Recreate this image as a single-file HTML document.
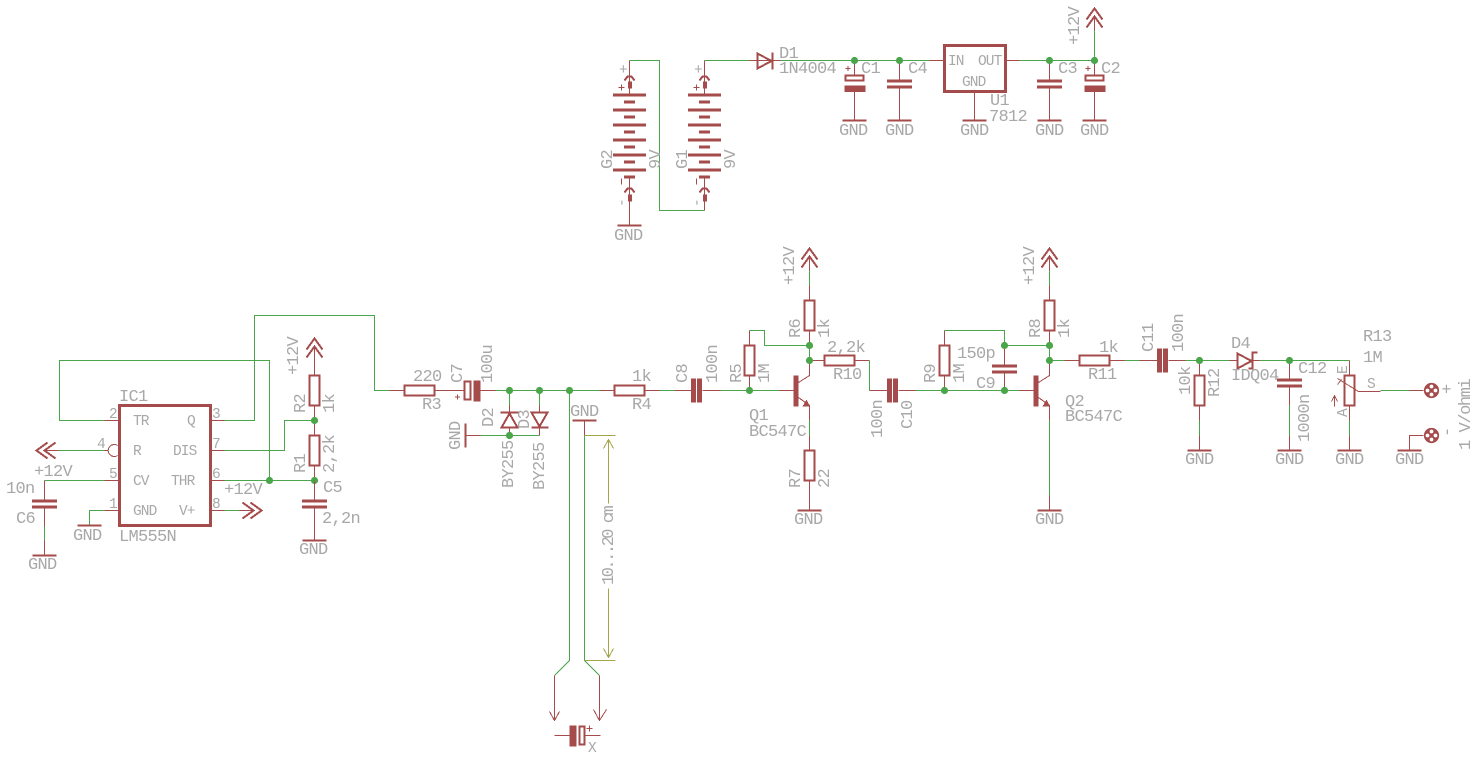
<!DOCTYPE html>
<html><head><meta charset="utf-8"><title>Schematic</title>
<style>
html,body{margin:0;padding:0;background:#fff}
svg{display:block}
path,rect{shape-rendering:crispEdges}
.r{stroke:#a54b4b;stroke-width:1;fill:none}
.g{stroke:#4ba54b;stroke-width:1;fill:none}
.o{stroke:#a5a54b;stroke-width:1;fill:none}
.f{fill:#a54b4b;stroke:none}
.w{stroke:#a54b4b;stroke-width:2;fill:none}
.d{fill:#4ba54b;stroke:none}
text{font-family:"Liberation Mono",monospace;font-size:17px;letter-spacing:-.7px;fill:#a8a8a8;stroke:none}
text.s{font-size:14.5px;letter-spacing:-.9px}
</style></head><body>
<svg width="1475" height="761" viewBox="0 0 1475 761" xmlns="http://www.w3.org/2000/svg">
<defs>
<g id="rv"><rect class="w" x="-5" y="-15" width="10" height="30"/><path class="r" d="M0-30V-15M0 15V30"/></g>
<g id="rh"><rect class="w" x="-15" y="-5" width="30" height="10"/><path class="r" d="M-30 0H-15M15 0H30"/></g>
<path id="gnd" class="w" d="M-12 0H12"/>
<circle id="dot" class="d" r="3.6"/>
<g id="sup"><path class="r" d="M0 0V-14"/><path class="w" d="M-8-11L0-22L8-11M-8-3L0-14L8-3"/></g>
<g id="cv"><rect class="f" x="-12.5" y="-5" width="25" height="3"/><rect class="f" x="-12.5" y="1" width="25" height="3"/></g>
<g id="ch"><rect class="f" x="-5.5" y="-12" width="5" height="24"/><rect class="f" x="0.5" y="-12" width="5" height="24"/></g>
<g id="pc"><rect class="w" x="-9" y="15" width="18" height="5"/><rect class="f" x="-10" y="25" width="21" height="6.5"/><path class="r" d="M0 0V15M0 31V60M-9 8H-4M-6.5 5.5V10.5"/></g>
<g id="bat">
<path class="r" d="M0 0V33M0 115V150M-11 27H-5M-8 24V30"/>
<path class="w" d="M-5 20L-2 16H2L5 20M-5 132L-2 128H2L5 132"/>
<rect class="f" x="-1.5" y="21" width="4" height="7"/><rect class="f" x="-1.5" y="134" width="4" height="7"/>
<rect class="f" x="-16.5" y="33" width="33" height="3"/><rect class="f" x="-16.5" y="48" width="33" height="3"/><rect class="f" x="-16.5" y="63" width="33" height="3"/><rect class="f" x="-16.5" y="78" width="33" height="3"/><rect class="f" x="-16.5" y="93" width="33" height="3"/><rect class="f" x="-16.5" y="108" width="33" height="3"/>
<rect class="f" x="-5.5" y="40" width="11" height="3"/><rect class="f" x="-5.5" y="55" width="11" height="3"/><rect class="f" x="-5.5" y="70" width="11" height="3"/><rect class="f" x="-5.5" y="85" width="11" height="3"/><rect class="f" x="-5.5" y="100" width="11" height="3"/><rect class="f" x="-5.5" y="115" width="11" height="3"/>
<path class="r" d="M-8 118V124"/>
</g>
<g id="q"><path class="r" d="M-30 0H-16M-11-8L0-15V-30M-11 7L0 15V30"/><rect class="f" x="-16" y="-15" width="5" height="31"/><path class="f" d="M-7 16H0.5L-3 9Z"/></g>
<g id="term"><circle class="f" r="7.6"/><circle r="1.9" cy="-4" fill="#fff"/><circle r="1.9" cy="4" fill="#fff"/><circle r="1.9" cx="-4" fill="#fff"/><circle r="1.9" cx="4" fill="#fff"/></g>
</defs>
<rect width="1475" height="761" fill="#fff"/>
<g transform="translate(.5 .5)">
<!-- power section -->
<path class="g" d="M629 60H659V210H704M704 60H749M780 60H929M1019 60H1094M1094 30V60"/>
<use href="#bat" x="629" y="60"/><use href="#bat" x="704" y="60"/>
<path class="r" d="M629 210V225M749 60H780"/>
<path class="w" d="M757 53V68L771 60.5ZM772 52V69"/>
<use href="#gnd" x="629" y="225"/>
<use href="#pc" x="854" y="60"/><use href="#gnd" x="854" y="120"/>
<use href="#cv" x="899" y="84"/><path class="r" d="M899 60V80M899 87V120"/><use href="#gnd" x="899" y="120"/>
<path class="r" d="M929 60H944M1005 60H1019M974 91V120"/>
<rect x="944" y="45" width="61" height="46" fill="none" stroke="#a54b4b" stroke-width="3"/>
<use href="#gnd" x="974" y="120"/>
<use href="#cv" x="1049" y="84"/><path class="r" d="M1049 60V80M1049 87V120"/><use href="#gnd" x="1049" y="120"/>
<use href="#pc" x="1094" y="60"/><use href="#gnd" x="1094" y="120"/>
<use href="#sup" x="1094" y="30"/>
<use href="#dot" x="854" y="60"/><use href="#dot" x="899" y="60"/><use href="#dot" x="1049" y="60"/><use href="#dot" x="1094" y="60"/>

<!-- 555 -->
<rect x="119" y="405" width="91" height="120" fill="none" stroke="#a54b4b" stroke-width="3"/>
<path class="r" d="M104 420H119M104 480H119M104 510H119M210 420H224M210 450H224M210 480H224M210 510H224M104 450H107"/>
<path class="r" d="M117 445A6 6 0 1 0 117 455"/>
<path class="g" d="M104 420H59V360H269V480M224 420H254V315H374V390H389M224 450H284V420H314M224 480H314M224 510H239M58 450H104M104 480H44M104 510H89V525"/>
<use href="#sup" transform="translate(58 450) rotate(-90)"/>
<use href="#sup" transform="translate(239 510) rotate(90)"/>
<use href="#dot" x="269" y="480"/>
<use href="#sup" x="314" y="360"/>
<use href="#rv" x="314" y="390"/><use href="#rv" x="314" y="450"/>
<use href="#dot" x="314" y="420"/><use href="#dot" x="314" y="480"/>
<use href="#cv" x="314" y="504"/><path class="r" d="M314 480V500M314 507V540"/><use href="#gnd" x="314" y="540"/>
<use href="#cv" x="44" y="504"/><path class="r" d="M44 480V500M44 507V526M44 540V555"/><path class="g" d="M44 526V540"/><use href="#gnd" x="44" y="555"/>
<use href="#gnd" x="89" y="525"/>

<!-- input -->
<use href="#rh" x="419" y="390"/>
<path class="r" d="M449 390H463M480 390H495M457 394V399M454.5 396.5H459.5"/>
<rect x="464" y="381" width="6" height="18" fill="none" stroke="#a54b4b" stroke-width="2"/>
<rect class="f" x="473" y="380" width="7" height="21"/>
<path class="g" d="M495 390H599M509 390V405M539 390V405M569 390V660L554 675M584 435V660L599 675M480 435H539"/>
<path class="r" d="M509 405V412M539 405V412M509 427V435M539 427V435M465 435H480M584 420V435M554 675V720M599 675V720M549 711L554 720L559 711M593 709L599 720L606 709"/>
<path class="w" d="M500 412H518M501 427H517L509 413ZM531 412H547L539 426ZM531 427H548"/>
<use href="#dot" x="509" y="390"/><use href="#dot" x="539" y="390"/><use href="#dot" x="569" y="390"/><use href="#dot" x="509" y="435"/>
<path class="w" d="M465 423V447"/>
<use href="#gnd" x="584" y="420"/>
<path class="o" d="M584 435H615M608 439V503M603 448L608 439L613 448M608 588V657M603 648L608 657L613 648M584 660H615"/>
<path class="r" d="M554 735H569M584 735H600M589 725V731M586 728H592"/>
<rect class="f" x="569" y="725" width="7" height="21"/>
<rect x="579" y="726" width="5" height="18" fill="none" stroke="#a54b4b" stroke-width="2"/>

<!-- stage 1 -->
<use href="#rh" x="629" y="390"/>
<path class="g" d="M659 390H674M720 390H779"/>
<path class="r" d="M674 390H691M702 390H720"/>
<use href="#ch" x="696" y="390"/>
<use href="#rv" x="749" y="360"/>
<path class="g" d="M749 330H764V345H809M809 345V360M809 270V285M809 360H812"/>
<use href="#sup" x="809" y="270"/>
<use href="#rv" x="809" y="315"/>
<use href="#rh" x="839" y="360"/>
<use href="#q" x="809" y="390"/>
<path class="g" d="M809 420V435"/>
<use href="#rv" x="809" y="465"/>
<path class="r" d="M809 495V510"/>
<use href="#gnd" x="809" y="510"/>
<use href="#dot" x="749" y="390"/><use href="#dot" x="809" y="345"/><use href="#dot" x="809" y="360"/>
<path class="g" d="M869 360V390"/>
<path class="r" d="M869 390H887M898 390H915"/>
<use href="#ch" x="892" y="390"/>

<!-- stage 2 -->
<path class="g" d="M915 390H1019M944 330H1004V345M1004 345H1049M1049 345V360M1049 270V285M1049 360H1064M1124 360H1139M1049 420V495"/>
<use href="#rv" x="944" y="360"/>
<use href="#cv" x="1004" y="369"/><path class="r" d="M1004 345V365M1004 372V390"/>
<use href="#sup" x="1049" y="270"/>
<use href="#rv" x="1049" y="315"/>
<use href="#q" x="1049" y="390"/>
<path class="g" d="M1049 420V495"/>
<path class="r" d="M1049 495V510"/><use href="#gnd" x="1049" y="510"/>
<use href="#rh" x="1094" y="360"/>
<use href="#dot" x="944" y="390"/><use href="#dot" x="1004" y="390"/><use href="#dot" x="1004" y="345"/><use href="#dot" x="1049" y="345"/><use href="#dot" x="1049" y="360"/>

<!-- output -->
<path class="r" d="M1139 360H1157M1168 360H1185"/>
<use href="#ch" x="1162" y="360"/>
<path class="g" d="M1185 360H1229M1259 360H1349M1199 420V435M1289 405V435M1349 420V435M1380 390H1409"/>
<use href="#rv" x="1199" y="390"/>
<path class="r" d="M1199 435V450"/><use href="#gnd" x="1199" y="450"/>
<path class="r" d="M1229 360H1237M1252 360H1259"/>
<path class="w" d="M1237 353V368L1251 360.5ZM1257 352H1252V368H1248"/>
<use href="#cv" x="1289" y="383"/><path class="r" d="M1289 360V379M1289 386V405M1289 435V450"/><use href="#gnd" x="1289" y="450"/>
<use href="#rv" x="1349" y="390"/>
<path class="r" d="M1349 435V450M1337 378L1358 391H1380M1337 384L1341 379M1334 406V396M1331 401L1334 395L1337 401"/>
<use href="#gnd" x="1349" y="450"/>
<path class="r" d="M1409 390H1423M1423 435H1409V450"/>
<use href="#term" x="1431" y="390"/><use href="#term" x="1431" y="435"/>
<use href="#gnd" x="1409" y="450"/>
<use href="#dot" x="1199" y="360"/><use href="#dot" x="1289" y="360"/>
</g>

<!-- labels power -->
<text x="779" y="58">D1</text><text x="779" y="73">1N4004</text>
<text x="861" y="73">C1</text><text x="908" y="73">C4</text><text x="1058" y="73">C3</text><text x="1101" y="73">C2</text>
<text x="990" y="105">U1</text><text x="989" y="121">7812</text>
<text class="s" x="948" y="65">IN</text><text class="s" x="978" y="65">OUT</text><text class="s" x="962" y="86">GND</text>
<text x="839" y="135">GND</text><text x="885" y="135">GND</text><text x="960" y="135">GND</text><text x="1035" y="135">GND</text><text x="1080" y="135">GND</text>
<text x="614" y="240">GND</text>
<text transform="rotate(-90 1079 45)" x="1079" y="45">+12V</text>
<text transform="rotate(-90 612 169)" x="612" y="169">G2</text>
<text transform="rotate(-90 660 169)" x="660" y="169">9V</text>
<text transform="rotate(-90 687 169)" x="687" y="169">G1</text>
<text transform="rotate(-90 735 169)" x="735" y="169">9V</text>
<text class="s" x="619" y="74">+</text><text class="s" x="694" y="74">+</text>
<text class="s" transform="rotate(-90 626 207)" x="626" y="207">-</text>
<text class="s" transform="rotate(-90 701 207)" x="701" y="207">-</text>

<!-- labels 555 -->
<text x="119" y="401">IC1</text><text x="119" y="541">LM555N</text>
<text class="s" x="109" y="418">2</text><text class="s" x="97" y="448">4</text><text class="s" x="109" y="478">5</text><text class="s" x="109" y="508">1</text>
<text class="s" x="212" y="418">3</text><text class="s" x="212" y="448">7</text><text class="s" x="212" y="478">6</text><text class="s" x="212" y="508">8</text>
<text class="s" x="133" y="425">TR</text><text class="s" x="133" y="455">R</text><text class="s" x="133" y="485">CV</text><text class="s" x="133" y="515">GND</text>
<text class="s" x="187" y="425">Q</text><text class="s" x="173" y="455">DIS</text><text class="s" x="171" y="485">THR</text><text class="s" x="179" y="515">V+</text>
<text x="34" y="476">+12V</text><text x="6" y="493">10n</text><text x="16" y="523">C6</text><text x="28" y="569">GND</text>
<text x="73" y="540">GND</text><text x="224" y="494">+12V</text>
<text x="323" y="492">C5</text><text x="322" y="523">2,2n</text><text x="299" y="554">GND</text>
<text transform="rotate(-90 298 375)" x="298" y="375">+12V</text>
<text transform="rotate(-90 305 413)" x="305" y="413">R2</text>
<text transform="rotate(-90 334 413)" x="334" y="413">1k</text>
<text transform="rotate(-90 305 473)" x="305" y="473">R1</text>
<text transform="rotate(-90 334 473)" x="334" y="473">2,2k</text>

<!-- labels input -->
<text x="413" y="381">220</text><text x="422" y="409">R3</text>
<text transform="rotate(-90 462 383)" x="462" y="383">C7</text>
<text transform="rotate(-90 492 383)" x="492" y="383">100u</text>
<text transform="rotate(-90 493 427)" x="493" y="427">D2</text>
<text transform="rotate(-90 513 488)" x="513" y="488">BY255</text>
<text transform="rotate(-90 529 429)" x="529" y="429">D3</text>
<text transform="rotate(-90 544 490)" x="544" y="490">BY255</text>
<text transform="rotate(-90 460 450)" x="460" y="450">GND</text>
<text x="570" y="416">GND</text>
<text transform="rotate(-90 613 585)" x="613" y="585" textLength="79" lengthAdjust="spacing">10...20 cm</text>
<text class="s" x="588" y="752">X</text>

<!-- labels stage 1 -->
<text x="632" y="381">1k</text><text x="632" y="409">R4</text>
<text transform="rotate(-90 687 383)" x="687" y="383">C8</text>
<text transform="rotate(-90 717 383)" x="717" y="383">100n</text>
<text transform="rotate(-90 741 383)" x="741" y="383">R5</text>
<text transform="rotate(-90 769 383)" x="769" y="383">1M</text>
<text transform="rotate(-90 800 338)" x="800" y="338">R6</text>
<text transform="rotate(-90 829 338)" x="829" y="338">1k</text>
<text transform="rotate(-90 794 285)" x="794" y="285">+12V</text>
<text x="827" y="352">2,2k</text><text x="833" y="379">R10</text>
<text x="749" y="420">Q1</text><text x="749" y="436">BC547C</text>
<text transform="rotate(-90 800 488)" x="800" y="488">R7</text>
<text transform="rotate(-90 829 488)" x="829" y="488">22</text>
<text x="794" y="524">GND</text>
<text transform="rotate(-90 882 438)" x="882" y="438">100n</text>
<text transform="rotate(-90 912 429)" x="912" y="429">C10</text>

<!-- labels stage 2 -->
<text transform="rotate(-90 935 383)" x="935" y="383">R9</text>
<text transform="rotate(-90 964 383)" x="964" y="383">1M</text>
<text x="957" y="358">150p</text><text x="976" y="388">C9</text>
<text transform="rotate(-90 1040 338)" x="1040" y="338">R8</text>
<text transform="rotate(-90 1069 338)" x="1069" y="338">1k</text>
<text transform="rotate(-90 1034 285)" x="1034" y="285">+12V</text>
<text x="1099" y="352">1k</text><text x="1088" y="379">R11</text>
<text x="1065" y="406">Q2</text><text x="1065" y="421">BC547C</text>
<text x="1035" y="524">GND</text>

<!-- labels output -->
<text transform="rotate(-90 1153 352)" x="1153" y="352">C11</text>
<text transform="rotate(-90 1183 352)" x="1183" y="352">100n</text>
<text x="1231" y="348">D4</text><text x="1231" y="380">IDQ04</text>
<text x="1298" y="373">C12</text>
<text transform="rotate(-90 1190 395)" x="1190" y="395">10k</text>
<text transform="rotate(-90 1219 397)" x="1219" y="397">R12</text>
<text transform="rotate(-90 1309 442)" x="1309" y="442">1000n</text>
<text x="1363" y="341">R13</text><text x="1363" y="362">1M</text>
<text class="s" transform="rotate(-90 1347 374)" x="1347" y="374">E</text>
<text class="s" transform="rotate(-90 1347 417)" x="1347" y="417">A</text>
<text class="s" x="1367" y="388">S</text>
<text x="1185" y="464">GND</text><text x="1275" y="464">GND</text><text x="1335" y="464">GND</text><text x="1395" y="464">GND</text>
<text transform="rotate(-90 1452 394)" x="1452" y="394">+</text>
<text transform="rotate(-90 1452 437)" x="1452" y="437">-</text>
<text transform="rotate(-90 1470 450)" x="1470" y="450" textLength="71" lengthAdjust="spacing">1 V/ohmi</text>
</svg>
</body></html>
